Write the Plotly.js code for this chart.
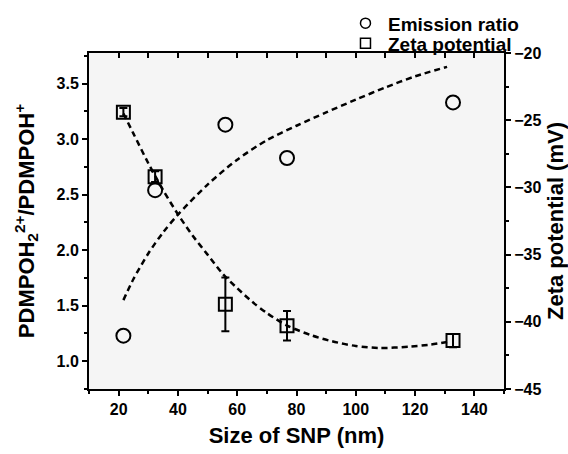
<!DOCTYPE html>
<html>
<head>
<meta charset="utf-8">
<script src="https://cdn.plot.ly/plotly-3.0.1.min.js"></script>
<style>html,body{margin:0;padding:0;background:#fff;}#chart{width:568px;height:454px;}</style>
</head>
<body>
<div id="chart"></div>
<script>
// Measured data
var sizes = [21.6, 32.3, 56.0, 76.8, 132.8];
var emissionRatio = [1.23, 2.54, 3.13, 2.83, 3.33];
var zetaPotential = [-24.4, -29.2, -38.7, -40.3, -41.4];
var zetaError = [0.3, 0.4, 2.0, 1.1, 0.5];

// Fitted (dashed) curves
var emissionFitX = [21.6, 25, 30, 35, 40, 50, 60, 70, 80, 90, 100, 110, 120, 130.8];
var emissionFitY = [1.55, 1.74, 1.97, 2.16, 2.32, 2.59, 2.815, 2.99, 3.12, 3.24, 3.355, 3.465, 3.565, 3.65];
var zetaFitX = [21.6, 25, 30, 35, 40, 45, 50, 55, 60, 65, 70, 77, 85, 92, 100, 108, 118, 125, 132];
var zetaFitY = [-24.5, -26.0, -28.2, -30.2, -32.0, -33.6, -35.0, -36.4, -37.5, -38.5, -39.35, -40.3, -41.0, -41.45, -41.8, -41.95, -41.85, -41.7, -41.45];

var xTickVals = [20, 40, 60, 80, 100, 120, 140];
var leftTickVals = [1.0, 1.5, 2.0, 2.5, 3.0, 3.5];
var rightTickVals = [-45, -40, -35, -30, -25, -20];

var FONT = 'Liberation Sans, Arial, sans-serif';
var dashStyle = '6px,4px';

var traces = [
  {x: emissionFitX, y: emissionFitY, type: 'scatter', mode: 'lines', line: {shape: 'spline', smoothing: 0.8, color: '#000', width: 2.5, dash: dashStyle}, yaxis: 'y', showlegend: false, hoverinfo: 'skip'},
  {x: zetaFitX, y: zetaFitY, type: 'scatter', mode: 'lines', line: {shape: 'spline', smoothing: 0.8, color: '#000', width: 2.5, dash: dashStyle}, yaxis: 'y2', showlegend: false, hoverinfo: 'skip'},
  {x: sizes, y: emissionRatio, type: 'scatter', mode: 'markers', marker: {symbol: 'circle-open', size: 14, color: '#000', line: {width: 2, color: '#000'}}, yaxis: 'y', showlegend: false},
  {x: sizes, y: zetaPotential, type: 'scatter', mode: 'markers', marker: {symbol: 'square-open', size: 13, color: '#000', line: {width: 2, color: '#000'}},
   error_y: {type: 'data', array: zetaError, visible: true, color: '#000', thickness: 2, width: 4}, yaxis: 'y2', showlegend: false},
  // legend entries
  {x: [null], y: [null], type: 'scatter', mode: 'markers', name: 'Emission ratio', legend: 'legend', marker: {symbol: 'circle-open', size: 10, color: '#000', line: {width: 1.5, color: '#000'}}, yaxis: 'y'},
  {x: [null], y: [null], type: 'scatter', mode: 'markers', name: 'Zeta potential', legend: 'legend2', marker: {symbol: 'square-open', size: 10, color: '#000', line: {width: 1.5, color: '#000'}}, yaxis: 'y'},
  // top axis carrier
  {x: [null], y: [null], type: 'scatter', mode: 'markers', xaxis: 'x2', yaxis: 'y', showlegend: false, hoverinfo: 'skip'}
];

var legendFont = {family: FONT, size: 19, weight: 'bold', color: '#000'};

var layout = {
  width: 568, height: 454,
  margin: {l: 89, r: 64, t: 53, b: 65, autoexpand: false},
  paper_bgcolor: '#ffffff',
  plot_bgcolor: '#f5f5f5',
  font: {family: FONT, color: '#000', size: 16, weight: 'bold'},
  showlegend: true,
  legend: {x: 0.612, xanchor: 'left', y: 1.145, yanchor: 'top', bgcolor: 'rgba(0,0,0,0)', font: legendFont, itemwidth: 35},
  legend2: {x: 0.612, xanchor: 'left', y: 1.085, yanchor: 'top', bgcolor: 'rgba(0,0,0,0)', font: legendFont, itemwidth: 35},
  xaxis: {
    range: [10, 150], tickvals: xTickVals, ticks: 'outside', ticklen: 5, tickwidth: 2, tickcolor: '#000',
    minor: {dtick: 10, tick0: 0, ticks: 'outside', ticklen: 3, tickwidth: 2, tickcolor: '#000'},
    showline: true, linewidth: 2, linecolor: '#000', showgrid: false, zeroline: false,
    tickfont: {family: FONT, size: 16, weight: 'bold'},
    title: {text: 'Size of SNP (nm)', font: {family: FONT, size: 22, weight: 'bold'}, standoff: 10},
    automargin: false
  },
  xaxis2: {
    overlaying: 'x', side: 'top', anchor: 'y', range: [10, 150], dtick: 10, tick0: 0, ticks: 'inside', ticklen: 5, tickwidth: 2, tickcolor: '#000',
    showticklabels: false, showline: true, linewidth: 2, linecolor: '#000', showgrid: false, zeroline: false
  },
  yaxis: {
    range: [0.75, 3.775], tickvals: leftTickVals, ticktext: leftTickVals.map(function(v){return v.toFixed(1);}),
    ticks: 'outside', ticklen: 5, tickwidth: 2, tickcolor: '#000',
    minor: {dtick: 0.25, tick0: 0, ticks: 'outside', ticklen: 3, tickwidth: 2, tickcolor: '#000'},
    showline: true, linewidth: 2, linecolor: '#000', showgrid: false, zeroline: false,
    tickfont: {family: FONT, size: 16, weight: 'bold'},
    title: {text: 'PDMPOH<sub>2</sub><sup>2+</sup>/PDMPOH<sup>+</sup>', font: {family: FONT, size: 22, weight: 'bold'}, standoff: 16},
    automargin: false
  },
  yaxis2: {
    overlaying: 'y', side: 'right', anchor: 'x', range: [-45, -20], tickvals: rightTickVals,
    ticks: 'outside', ticklen: 5, tickwidth: 2, tickcolor: '#000',
    minor: {dtick: 2.5, tick0: 0, ticks: 'outside', ticklen: 3, tickwidth: 2, tickcolor: '#000'},
    showline: true, linewidth: 2, linecolor: '#000', showgrid: false, zeroline: false,
    tickfont: {family: FONT, size: 16, weight: 'bold'},
    title: {text: 'Zeta potential (mV)', font: {family: FONT, size: 22, weight: 'bold'}, standoff: 8},
    automargin: false
  }
};

Plotly.newPlot('chart', traces, layout, {displayModeBar: false, staticPlot: true});
</script>
</body>
</html>
